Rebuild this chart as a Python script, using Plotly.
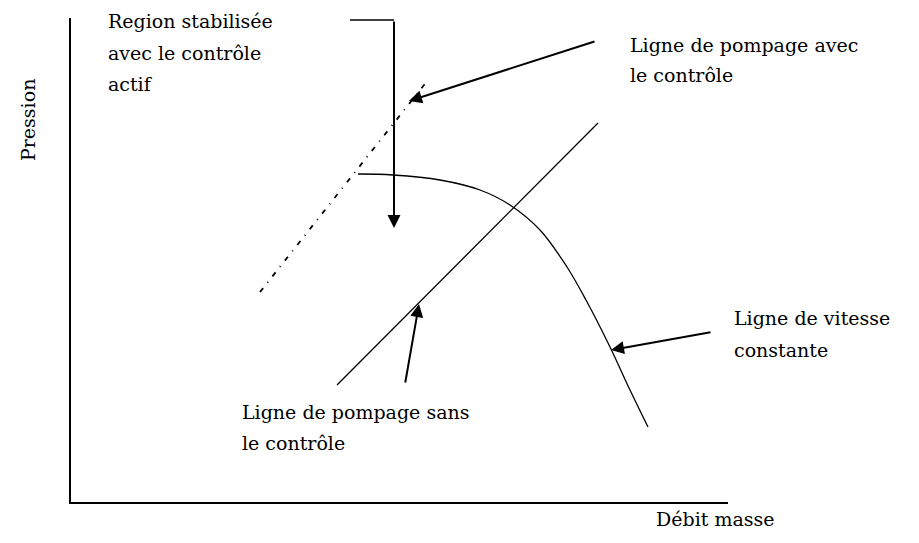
import plotly.graph_objects as go

# Data in chart units (origin at the axes corner)
curve_x = [287, 322, 369, 409, 439, 469, 496, 515, 539, 559, 577]
curve_y = [328, 327, 322, 312, 297, 272, 235, 202, 155, 112, 75]
surge_ctrl_x = [189, 357]
surge_ctrl_y = [210, 422]
surge_noctrl_x = [266, 527]
surge_noctrl_y = [117, 379]

label_lines = [
    "Region stabilisée", "avec le contrôle", "actif",
    "Ligne de pompage avec", "le contrôle",
    "Ligne de vitesse", "constante",
    "Ligne de pompage sans", "le contrôle",
]
label_pos_px = [(106, 21), (106, 53), (106, 84),
                (628, 45), (628, 75),
                (732, 318), (732, 350),
                (240, 412), (240, 443)]
x_title = "Débit masse"
y_title = "Pression"

W, H = 919, 543
OFF = 8  # page body margin
# axes corner / extent in screen pixels
AX0, AY0, AX1, AY1 = 71, 502, 728, 18
PW, PH = AX1 - AX0, AY0 - AY1
L, T = AX0 - OFF, AY1 - OFF
R, B = W - (AX1 - OFF), H - (AY0 - OFF)

def px2paper(px, py):
    return (px - AX0) / PW, (AY0 - py) / PH

def px2data(px, py):
    return px - AX0, AY0 - py

FONT = "DejaVu Serif"
FS = 19
fig = go.Figure()

fig.add_trace(go.Scatter(x=curve_x, y=curve_y, mode="lines",
                         line=dict(color="black", width=1.3, shape="spline", smoothing=1.0)))
fig.add_trace(go.Scatter(x=surge_ctrl_x, y=surge_ctrl_y, mode="lines",
                         line=dict(color="black", width=1.8, dash="5px,7px,1px,7px")))
fig.add_trace(go.Scatter(x=surge_noctrl_x, y=surge_noctrl_y, mode="lines",
                         line=dict(color="black", width=1.3)))
# horizontal part of L-shaped arrow
hx0, hy0 = px2data(350, 20)
hx1, hy1 = px2data(394, 20)
fig.add_trace(go.Scatter(x=[hx0, hx1], y=[hy0, hy1], mode="lines",
                         line=dict(color="black", width=1.5)))

annotations = []
for txt, (px, py) in zip(label_lines, label_pos_px):
    xp, yp = px2paper(px, py)
    annotations.append(dict(text=txt, x=xp, y=yp, xref="paper", yref="paper",
                            xanchor="left", yanchor="middle", showarrow=False,
                            font=dict(family=FONT, size=FS, color="black")))
xp, yp = px2paper(654, 519)
annotations.append(dict(text=x_title, x=xp, y=yp, xref="paper", yref="paper",
                        xanchor="left", yanchor="middle", showarrow=False,
                        font=dict(family=FONT, size=FS, color="black")))
xp, yp = px2paper(28, 120)
annotations.append(dict(text=y_title, x=xp, y=yp, xref="paper", yref="paper",
                        xanchor="center", yanchor="middle", showarrow=False, textangle=-90,
                        font=dict(family=FONT, size=FS, color="black")))

arrows_px = [((394, 20), (394, 228)),
             ((596, 41), (409, 101)),
             ((405, 384), (419, 304)),
             ((712, 332), (611, 350))]
for (tx, ty), (hx, hy) in arrows_px:
    ax_, ay_ = px2data(tx, ty)
    x_, y_ = px2data(hx, hy)
    annotations.append(dict(x=x_, y=y_, ax=ax_, ay=ay_, xref="x", yref="y",
                            axref="x", ayref="y", text="", showarrow=True,
                            arrowhead=2, arrowsize=1.3, arrowwidth=2, arrowcolor="black"))

fig.update_layout(
    width=W, height=H, margin=dict(l=L, r=R, t=T, b=B),
    paper_bgcolor="white", plot_bgcolor="white", showlegend=False,
    annotations=annotations,
    xaxis=dict(range=[0, PW], showline=True, linecolor="black", linewidth=1.5,
               showgrid=False, zeroline=False, showticklabels=False, ticks=""),
    yaxis=dict(range=[0, PH], showline=True, linecolor="black", linewidth=1.5,
               showgrid=False, zeroline=False, showticklabels=False, ticks=""),
)
fig.write_html("out.html")
